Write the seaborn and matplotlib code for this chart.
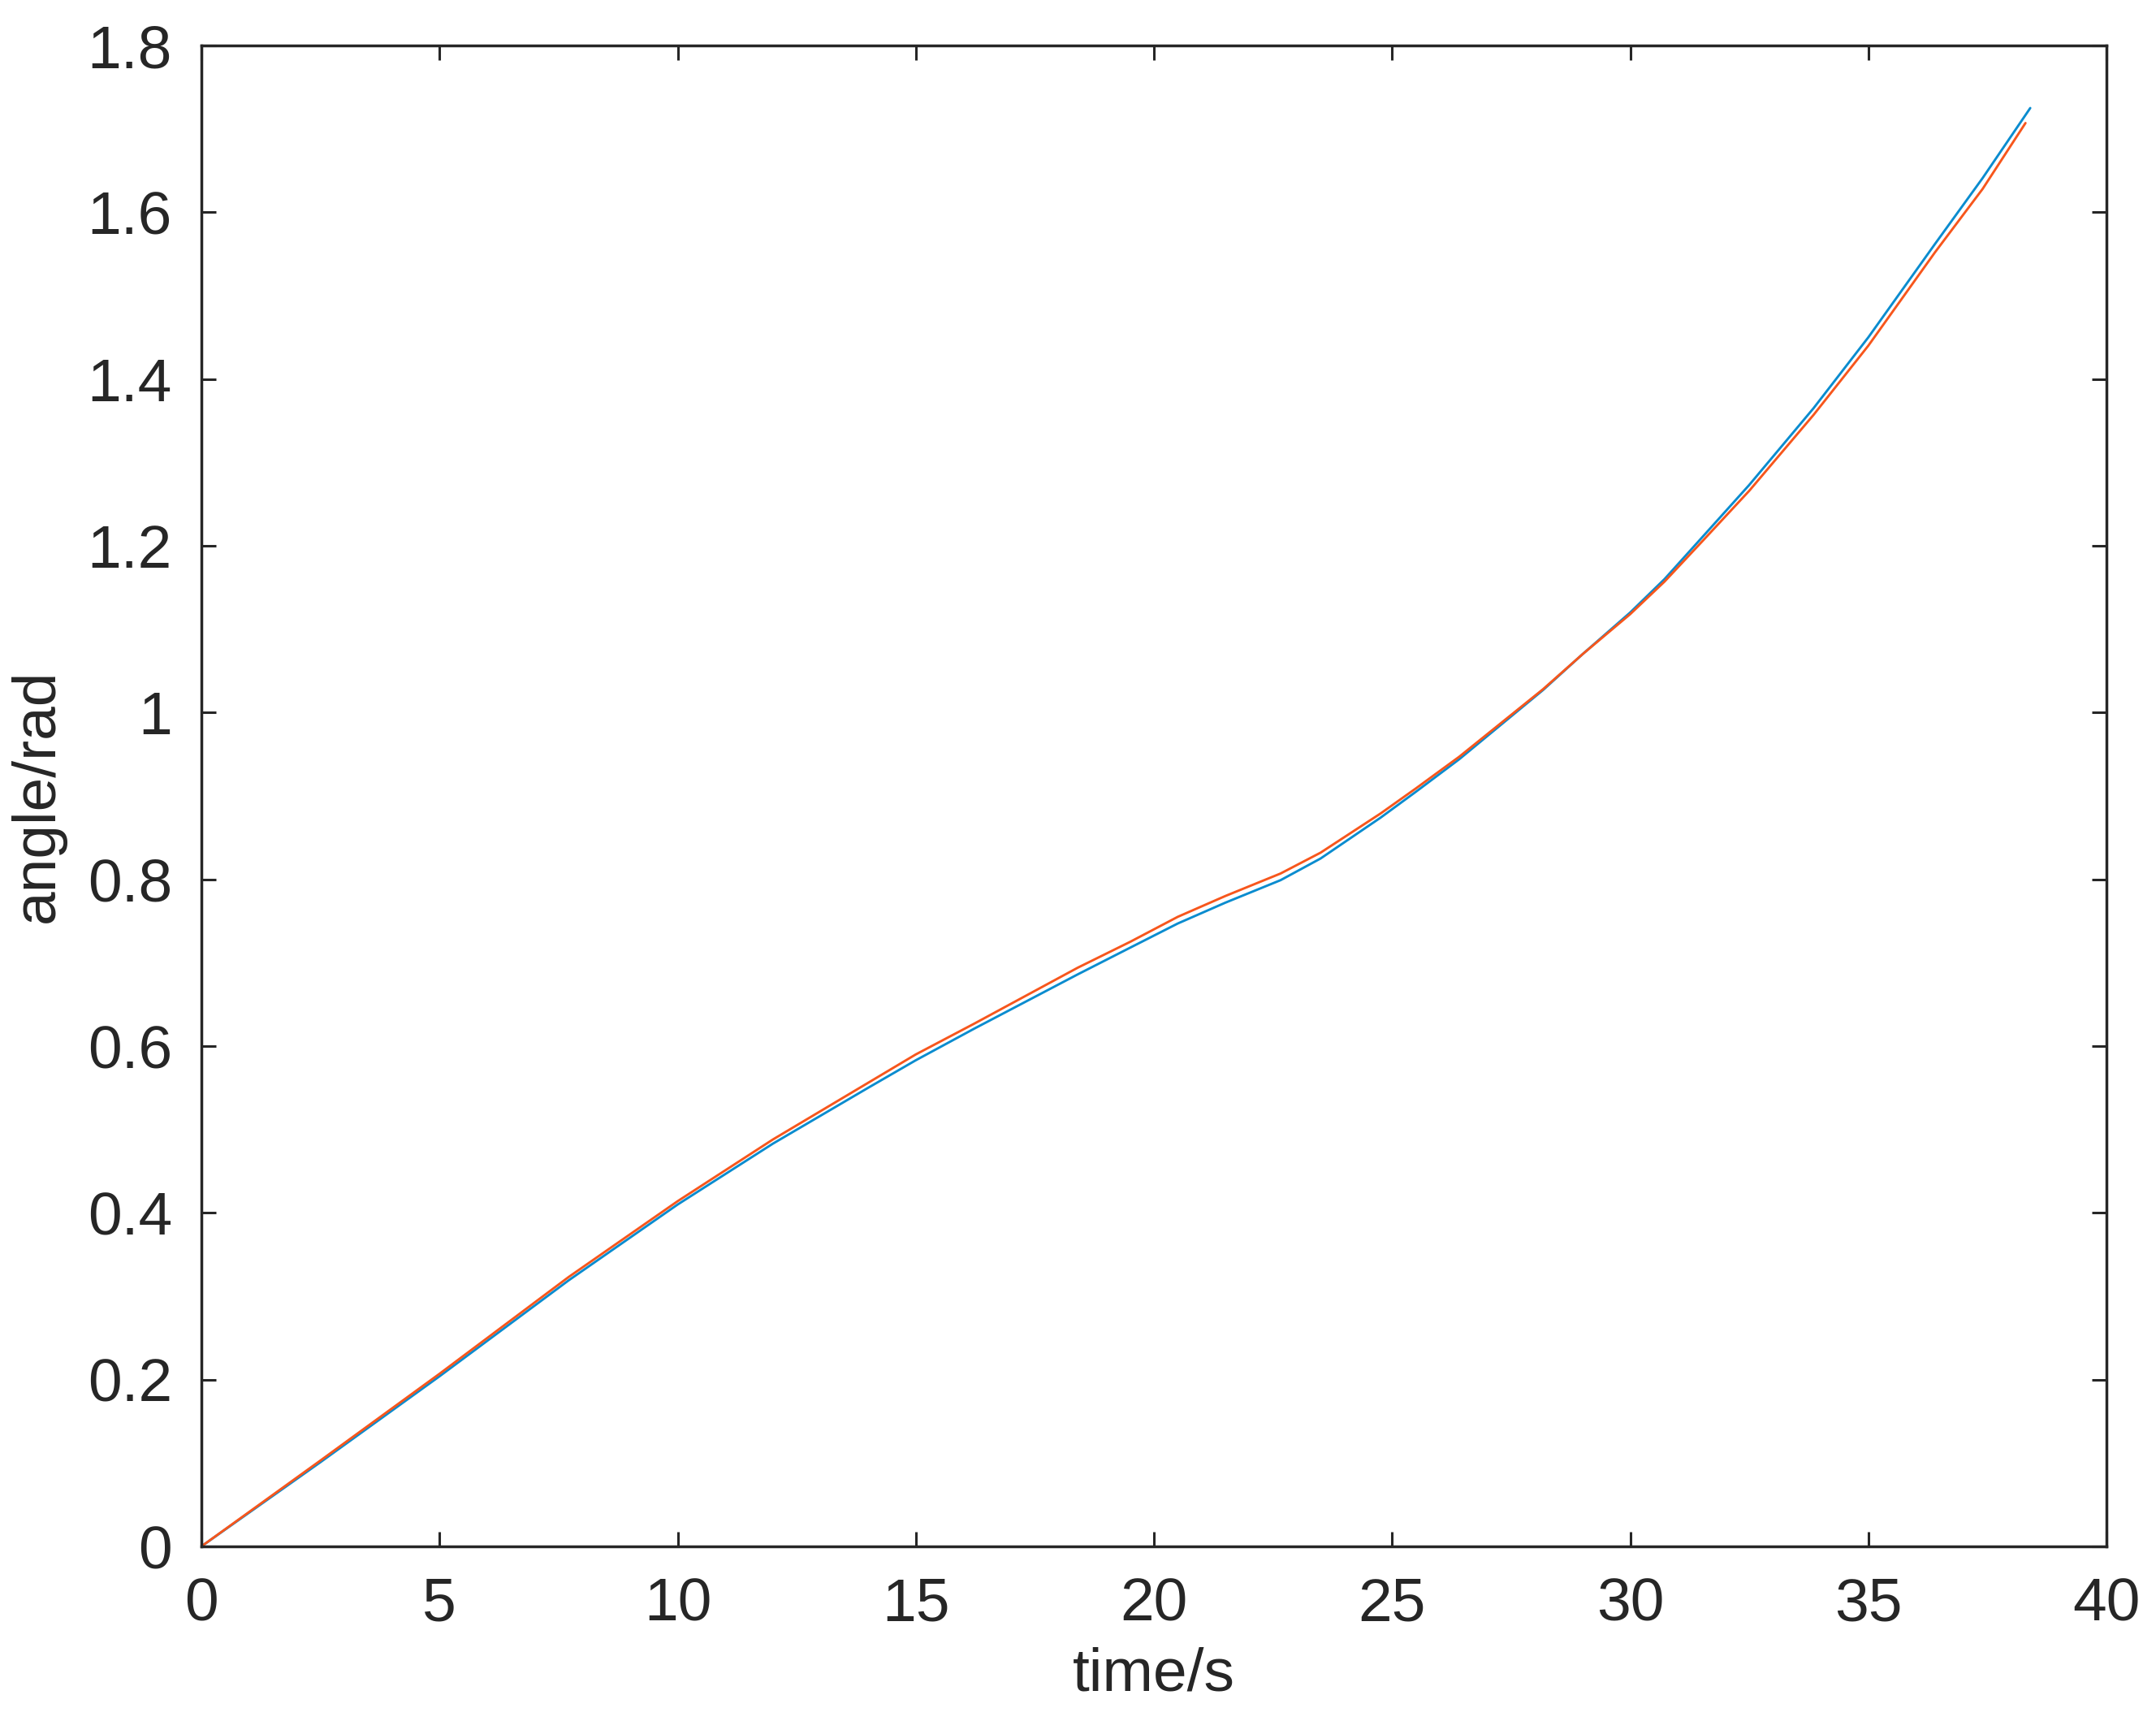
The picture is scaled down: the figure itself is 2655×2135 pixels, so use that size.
import matplotlib
matplotlib.use("Agg")
import matplotlib.pyplot as plt
import seaborn as sns
import pandas as pd

# ---- data ----
t_blue = [0, 2.5, 5, 7.71, 10, 12, 14, 15, 16.23, 18.4, 19.5, 20.5, 21.5, 22.66,
          23.5, 24.76, 25.5, 26.41, 28.17, 29, 30, 30.72, 31.54, 32.5, 33.85,
          35, 36.4, 37.4, 38.4]
angle_blue = [0, 0.101, 0.204, 0.319, 0.410, 0.483, 0.550, 0.583, 0.621, 0.686,
              0.718, 0.747, 0.772, 0.799, 0.825, 0.874, 0.905, 0.944, 1.027,
              1.070, 1.120, 1.160, 1.212, 1.273, 1.365, 1.450, 1.562, 1.641, 1.725]
t_orange = [0, 2.5, 5, 7.71, 10, 12, 14, 15, 16.23, 18.4, 19.5, 20.5, 21.5, 22.66,
            23.5, 24.76, 25.5, 26.41, 28.17, 29, 30, 30.72, 31.54, 32.5, 33.85,
            35, 36.4, 37.4, 38.3]
angle_orange = [0, 0.103, 0.207, 0.323, 0.414, 0.488, 0.556, 0.590, 0.627, 0.694,
                0.725, 0.755, 0.780, 0.807, 0.832, 0.879, 0.909, 0.947, 1.028,
                1.070, 1.118, 1.157, 1.207, 1.266, 1.357, 1.440, 1.552, 1.628, 1.707]
x_ticks = [0, 5, 10, 15, 20, 25, 30, 35, 40]
y_ticks = [0, 0.2, 0.4, 0.6, 0.8, 1.0, 1.2, 1.4, 1.6, 1.8]
x_label = "time/s"
y_label = "angle/rad"

df = pd.concat([
    pd.DataFrame({"t": t_blue, "angle": angle_blue, "series": "A"}),
    pd.DataFrame({"t": t_orange, "angle": angle_orange, "series": "B"}),
], ignore_index=True)

sns.set_theme(style="white")
plt.rcParams["font.family"] = ["Liberation Sans", "DejaVu Sans"]

ink = "#262626"
fig = plt.figure(figsize=(26.55, 21.35), dpi=100)
ax = fig.add_axes([248 / 2655, 1 - 1904 / 2135, (2594 - 248) / 2655, (1904 - 56) / 2135])

sns.lineplot(data=df, x="t", y="angle", hue="series",
             palette={"A": "#0a8ccf", "B": "#f7561c"},
             linewidth=2.1, legend=False, ax=ax, sort=False, estimator=None)

ax.set_xlim(0, 40)
ax.set_ylim(0, 1.8)
ax.set_xticks(x_ticks)
ax.set_yticks(y_ticks)
ax.set_xticklabels([f"{v:g}" for v in x_ticks])
ax.set_yticklabels([f"{v:g}" for v in y_ticks])
ax.set_xlabel(x_label, fontsize=54, color=ink, labelpad=12)
ax.set_ylabel(y_label, fontsize=54, color=ink, labelpad=19)

for s in ax.spines.values():
    s.set_visible(True)
    s.set_color(ink)
    s.set_linewidth(2.5)

ax.tick_params(axis="both", which="both", direction="in", length=13, width=2.2,
               color=ink, labelcolor=ink, labelsize=54,
               top=True, right=True, bottom=True, left=True)
ax.tick_params(axis="x", pad=27)
ax.tick_params(axis="y", pad=26)
ax.grid(False)

fig.savefig("out.png", dpi=100, facecolor="white")
